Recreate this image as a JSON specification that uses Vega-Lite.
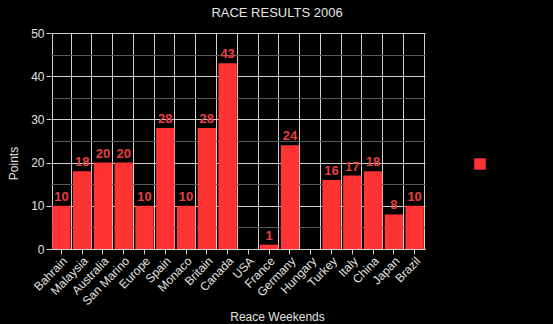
{
  "$schema": "https://vega.github.io/schema/vega-lite/v6.json",
  "width": 374,
  "height": 216,
  "autosize": {"type": "none"},
  "padding": {"left": 51, "top": 33, "right": 128, "bottom": 75},
  "background": "black",
  "title": {
    "text": "RACE RESULTS 2006",
    "color": "#e6e6e6",
    "fontSize": 13,
    "fontWeight": "normal",
    "font": "Liberation Sans",
    "anchor": "middle",
    "frame": "group",
    "dx": 39,
    "dy": 19,
    "baseline": "alphabetic",
    "offset": 16
  },
  "config": {
    "view": {"stroke": null},
    "axis": {
      "labelFont": "Liberation Sans",
      "titleFont": "Liberation Sans",
      "labelColor": "#e0e0e0",
      "titleColor": "#e0e0e0",
      "labelFontSize": 12,
      "titleFontSize": 12,
      "titleFontWeight": "normal",
      "tickColor": "#d0d0d0",
      "domainColor": "#d0d0d0"
    }
  },
  "data": {
    "values": [
      {"race": "Bahrain", "points": 10},
      {"race": "Malaysia", "points": 18},
      {"race": "Australia", "points": 20},
      {"race": "San Marino", "points": 20},
      {"race": "Europe", "points": 10},
      {"race": "Spain", "points": 28},
      {"race": "Monaco", "points": 10},
      {"race": "Britain", "points": 28},
      {"race": "Canada", "points": 43},
      {"race": "USA", "points": 0},
      {"race": "France", "points": 1},
      {"race": "Germany", "points": 24},
      {"race": "Hungary", "points": 0},
      {"race": "Turkey", "points": 16},
      {"race": "Italy", "points": 17},
      {"race": "China", "points": 18},
      {"race": "Japan", "points": 8},
      {"race": "Brazil", "points": 10}
    ]
  },
  "layer": [
    {
      "mark": {"type": "bar"},
      "encoding": {
        "x": {
          "field": "race",
          "type": "nominal",
          "sort": null,
          "scale": {"paddingInner": 0.12, "paddingOuter": 0.06},
          "axis": {
            "labelAngle": -46,
            "labelAlign": "right",
            "labelBaseline": "top",
            "labelPadding": 1,
            "tickSize": 5,
            "grid": false,
            "domain": true,
            "title": "Reace Weekends",
            "titleX": 226,
            "titleY": 67,
            "titleBaseline": "middle",
            "titleAlign": "center"
          }
        },
        "y": {
          "field": "points",
          "type": "quantitative",
          "scale": {"domain": [0, 50]},
          "axis": {
            "values": [0, 10, 20, 30, 40, 50],
            "grid": true,
            "gridColor": "#d0d0d0",
            "gridOpacity": 1,
            "domain": false,
            "tickSize": 5,
            "labelPadding": 2,
            "title": "Points",
            "titleX": -38,
            "titleY": 130,
            "titleAngle": -90,
            "titleAlign": "center",
            "titleBaseline": "middle"
          }
        },
        "color": {
          "datum": "Points",
          "type": "nominal",
          "scale": {"range": ["#ff3333"]},
          "legend": {
            "title": null,
            "labelExpr": "''",
            "symbolType": "square",
            "symbolSize": 130,
            "symbolOpacity": 1,
            "symbolStrokeWidth": 0,
            "padding": 0,
            "orient": "none",
            "legendX": 423,
            "legendY": 125
          }
        }
      }
    },
    {
      "transform": [{"filter": "datum.points > 0"}],
      "mark": {
        "type": "text",
        "baseline": "alphabetic",
        "dy": -5,
        "font": "Liberation Sans",
        "fontSize": 13,
        "fontWeight": "bold",
        "color": "#e8403f"
      },
      "encoding": {
        "x": {
          "field": "race",
          "type": "nominal",
          "sort": null,
          "axis": {
            "orient": "top",
            "tickBand": "extent",
            "grid": true,
            "gridColor": "#d0d0d0",
            "gridOpacity": 1,
            "labels": false,
            "ticks": false,
            "domain": false,
            "title": null
          }
        },
        "y": {
          "field": "points",
          "type": "quantitative",
          "axis": {
            "orient": "right",
            "values": [5, 15, 25, 35, 45],
            "grid": true,
            "gridColor": "#5a5a5a",
            "gridOpacity": 1,
            "labels": false,
            "ticks": false,
            "domain": false,
            "title": null
          }
        },
        "text": {"field": "points", "type": "quantitative"}
      }
    }
  ],
  "resolve": {"axis": {"x": "independent", "y": "independent"}}
}
